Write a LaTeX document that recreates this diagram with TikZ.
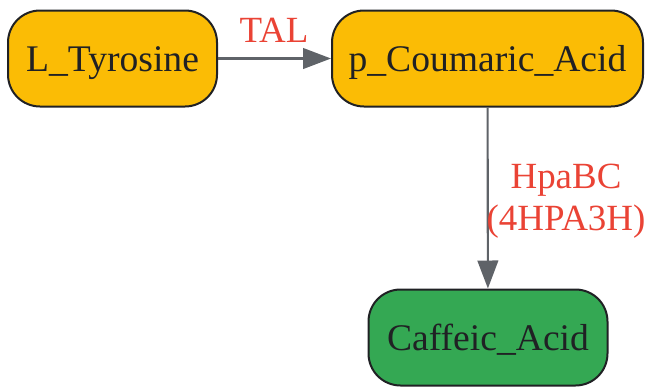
\documentclass[tikz,border=0pt]{standalone}
\usepackage{fontspec}
\setmainfont{Liberation Serif}
\usetikzlibrary{arrows.meta}
\definecolor{nodeorange}{HTML}{FBBC05}
\definecolor{nodegreen}{HTML}{34A853}
\definecolor{nodetext}{HTML}{202124}
\definecolor{edgegray}{HTML}{5F6368}
\definecolor{labelred}{HTML}{EA4335}
\tikzset{
  compound/.style={draw=nodetext, line width=1.5pt, rounded corners=24pt,
    text=nodetext, font=\fontsize{28.2}{32}\selectfont,
    text height=22.6pt, text depth=2.4pt,
    minimum height=72pt, inner sep=0pt},
  reaction/.style={draw=edgegray, line width=1.6pt,
    -{Triangle[length=21pt,width=15.5pt]}},
  enzyme/.style={text=labelred, font=\fontsize{27.7}{31.5}\selectfont, align=center},
}
\begin{document}
\begin{tikzpicture}[x=0.75pt, y=-0.75pt]
    \useasboundingbox (0,0) rectangle (647,387);
    \node[compound, fill=nodeorange, minimum width=156.75pt] (tyr) at (112.5,58.5) {L\_Tyrosine};
    \node[compound, fill=nodeorange, minimum width=233.25pt] (cou) at (487.5,58.5) {p\_Coumaric\_Acid};
    \node[compound, fill=nodegreen, minimum width=179.25pt] (caf) at (488,337.5) {Caffeic\_Acid};
    \draw[reaction] (tyr) -- (cou);
    \draw[reaction] (cou) -- (caf);
    \node[enzyme] (tal) at (274,30) {TAL};
    \node[enzyme] (hpa) at (566,201) {HpaBC\\(4HPA3H)};
\end{tikzpicture}
\end{document}
